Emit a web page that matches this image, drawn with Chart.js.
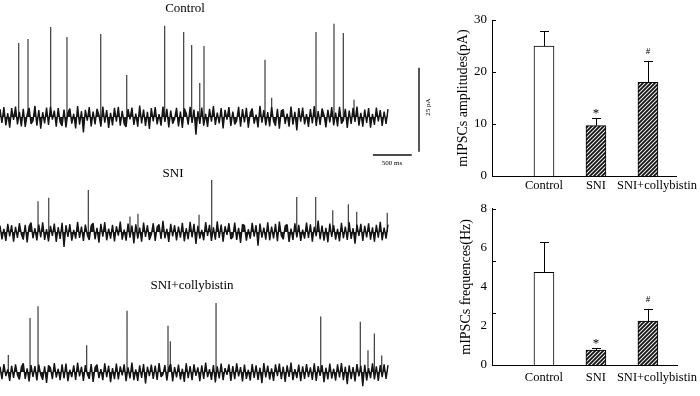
<!DOCTYPE html>
<html>
<head>
<meta charset="utf-8">
<script src="https://cdn.jsdelivr.net/npm/chart.js@4.4.1/dist/chart.umd.min.js"></script>
<style>
  body { margin: 0; background: #fff; width: 700px; height: 396px; overflow: hidden; position: relative; font-family: 'Liberation Serif', serif; }
  canvas { position: absolute; }
  .lbl { position: absolute; white-space: nowrap; color: #000; transform: translate(-50%, -50%); line-height: 1; }
</style>
</head>
<body>
<canvas id="trControl" width="440" height="170" style="left:0px;top:0px"></canvas>
<canvas id="trSni" width="440" height="80" style="left:0px;top:170px"></canvas>
<canvas id="trColly" width="440" height="106" style="left:0px;top:290px"></canvas>
<canvas id="ampChart" width="260" height="196" style="left:440px;top:0px"></canvas>
<canvas id="freqChart" width="260" height="200" style="left:440px;top:196px"></canvas>

<div class="lbl" style="left:185px;top:7px;font-size:13px">Control</div>
<div class="lbl" style="left:173px;top:172px;font-size:13px">SNI</div>
<div class="lbl" style="left:192px;top:284px;font-size:13px">SNI+collybistin</div>
<div class="lbl" style="left:428px;top:107px;font-size:7px;transform:translate(-50%,-50%) rotate(-90deg)">25 pA</div>
<div class="lbl" style="left:392px;top:163px;font-size:7px">500 ms</div>

<script>
// ---- trace data (ms / pA), noise sampled every 25 ms ----
const NOISE_STEP_MS = 25;

const CONTROL_NOISE = [
  2.3,-1.8,2.9,-2.5,1.1,-3.2,2.6,-0.9,3.1,-2.2,
  1.5,-2.8,2.4,-3.0,0.7,2.7,-2.1,-1.2,3.3,-2.6,
  2.0,-3.5,1.4,-1.9,2.8,-2.4,3.0,-0.8,1.9,-2.9,
  2.6,-1.6,-2.7,2.2,-3.1,1.3,2.5,-2.0,0.9,-3.4,
  3.2,-2.3,1.7,-4.6,2.1,-1.1,2.9,-2.8,1.6,-2.2,
  2.4,0.6,-2.9,3.1,-1.7,2.0,-3.3,1.2,-2.5,2.7,
  -1.4,3.0,-2.6,1.8,-2.1,-3.0,2.3,-0.7,2.8,-2.4,
  1.0,-2.9,3.4,-1.9,2.2,-2.7,1.5,-3.6,2.6,-1.3,
  2.9,-2.2,0.8,-2.6,3.1,-1.5,2.4,-3.1,1.9,-2.0,
  -0.6,2.7,-2.8,1.6,-3.3,2.5,1.1,-2.3,3.0,-1.8,
  2.2,-5.3,1.7,-2.1,2.8,-2.6,0.9,-3.0,2.4,-1.4,
  3.2,-2.4,1.3,-1.9,2.6,-3.4,2.1,-0.8,2.9,-2.7,
  1.6,-2.2,-1.1,3.0,-2.9,2.3,-1.6,2.7,-3.2,1.2,
  2.5,-2.0,0.7,-3.1,3.3,-1.7,2.0,-2.5,1.4,-2.8,
  2.9,-1.2,-2.6,2.4,-3.5,1.8,2.2,-2.1,1.0,-2.9,
  3.1,-2.3,1.5,-4.0,2.6,-1.4,2.8,-2.2,0.8,-3.0,
  2.3,-1.9,3.2,-2.7,1.7,-2.4,2.5,0.6,-3.1,2.1,
  -1.6,2.9,-2.5,1.3,-2.8,3.0,-2.0,-1.0,2.4,-3.3,
  1.9,-2.1,2.7,-1.5,3.1,-2.6,1.2,-2.9,2.2,-1.8,
  2.6,-3.2,0.9,-2.4,2.8,-1.3,2.0,-2.7,1.6,-2.1,
  2.3
];
const SNI_NOISE = [
  1.9,-2.2,0.9,-2.7,2.4,-1.3,2.0,-2.9,1.5,-1.8,
  2.6,-0.7,-2.3,2.1,-3.1,1.7,2.8,-1.9,1.1,-2.5,
  2.2,-1.6,2.9,-2.4,0.8,-2.8,1.8,-1.2,2.5,-3.0,
  1.4,-2.1,2.7,-4.5,2.0,-1.5,2.3,-2.6,0.6,-2.0,
  3.0,-1.8,1.6,-2.7,2.2,-0.9,-2.4,1.9,2.6,-2.2,
  1.2,-3.2,2.4,-1.4,2.9,-2.5,1.0,-2.0,2.1,-2.8,
  1.7,-1.1,3.1,-2.3,0.7,-2.6,2.5,-1.7,1.9,-3.4,
  2.3,-2.0,1.3,-2.9,2.8,-1.5,2.0,-2.4,-0.8,2.6,
  -2.7,1.5,2.2,-2.1,3.3,-1.9,0.9,-3.0,2.4,-1.3,
  2.0,-2.5,1.6,-1.7,2.7,-2.8,1.1,-2.2,3.0,-1.6,
  2.4,-3.6,1.8,-2.0,0.6,-2.5,2.9,-1.2,2.1,-2.7,
  1.4,-2.3,3.2,-1.8,2.2,-2.9,1.7,-0.9,2.6,-2.1,
  -1.5,2.8,-2.4,1.2,-3.3,2.3,1.9,-2.6,0.8,-2.0,
  2.7,-1.4,2.0,-4.1,2.5,-1.7,1.3,-2.3,2.9,-2.5,
  1.6,-1.9,2.4,-2.8,3.1,-1.1,-2.2,1.8,2.2,-3.0,
  1.0,-2.4,2.6,-1.6,2.1,-2.7,0.7,-2.0,2.8,-1.8,
  2.3,-2.9,1.5,-1.3,3.4,-2.2,1.9,-2.6,1.2,-3.1,
  2.5,-1.5,2.0,-2.3,0.9,-2.8,2.7,-1.9,1.6,-2.4,
  2.9,-2.1,1.1,-3.5,2.2,-1.2,2.4,-2.7,1.8,-1.6,
  2.6,-2.3,1.4,-2.9,2.1,-1.7,3.0,-2.5,1.3,-2.0,
  2.2
];
const COLLY_NOISE = [
  1.6,-2.1,2.4,-1.2,0.8,-2.6,1.9,-1.7,2.3,-0.9,
  -2.2,1.5,2.6,-2.0,1.1,-2.8,2.1,-1.4,1.8,-2.5,
  2.2,-0.8,-2.3,1.7,-3.2,2.0,1.3,-2.1,2.7,-1.6,
  1.0,-2.4,2.3,-1.9,2.5,-2.7,0.7,-1.5,2.0,-2.3,
  2.8,-1.3,1.6,-2.6,2.1,-0.6,-2.0,2.4,-2.9,1.4,
  2.2,-1.8,0.9,-2.4,2.6,-1.5,1.9,-3.0,1.2,-2.1,
  2.5,-2.2,1.7,-1.0,2.3,-2.7,1.4,-1.9,2.8,-2.4,
  0.8,-2.6,2.0,-1.7,2.4,-3.4,1.6,-1.2,2.2,-2.0,
  1.9,-2.3,2.7,-1.4,-0.7,2.1,-2.5,1.3,2.4,-2.8,
  1.5,-1.6,2.2,-2.2,1.0,-2.9,2.6,-1.8,1.8,-2.4,
  2.3,-1.1,1.4,-2.7,2.0,-2.0,2.8,-1.5,0.9,-2.3,
  2.1,-3.1,1.7,-1.9,2.5,-2.4,1.2,-0.8,2.3,-2.6,
  1.8,-2.1,2.6,-1.3,1.5,-2.8,2.2,-2.0,0.7,-2.5,
  2.4,-1.7,2.0,-2.3,1.3,-3.3,2.7,-1.6,1.9,-2.2,
  1.1,-2.6,2.3,-1.2,2.5,-2.1,1.6,-2.9,2.0,-1.4,
  2.8,-2.4,0.9,-1.8,2.2,-2.7,1.7,-2.0,2.4,-1.5,
  1.4,-2.3,2.6,-2.6,1.8,-1.1,2.1,-3.0,1.3,-2.2,
  2.5,-1.9,1.0,-2.5,2.3,-1.6,2.7,-2.4,1.6,-3.6,
  2.0,-2.1,1.5,-2.8,2.4,-1.3,1.9,-4.2,2.2,-2.5,
  1.2,-1.8,2.6,-2.2,1.7,-2.6,2.1,-1.5,2.3,-2.0,
  2.1
];

const CONTROL_SPIKE_MS = [241, 361, 653, 863, 1298, 1633, 2122, 2367, 2470, 2574, 2629, 3415, 3501, 4072, 4304, 4424, 4562];
const CONTROL_SPIKE_PA = [22.0, 23.2, 26.8, 23.8, 24.7, 12.5, 27.1, 25.3, 21.4, 10.1, 21.1, 17.0, 5.7, 25.3, 27.7, 25.0, 5.1];
const SNI_SPIKE_MS = [490, 628, 1138, 1675, 1778, 2565, 2728, 3824, 4068, 4288, 4489, 4597, 4990];
const SNI_SPIKE_PA = [9.2, 10.2, 12.5, 4.6, 5.4, 5.1, 15.5, 10.4, 10.4, 6.5, 8.3, 6.0, 5.7];
const COLLY_SPIKE_MS = [107, 387, 490, 1117, 1637, 2165, 2195, 2784, 4133, 4643, 4742, 4824, 4919];
const COLLY_SPIKE_PA = [5.1, 16.1, 19.6, 8.0, 18.2, 13.8, 9.2, 20.5, 16.5, 15.0, 6.5, 11.5, 4.9];

const SCALE_BAR_PA = 25;
const SCALE_BAR_MS = 500;

// ---- bar chart data ----
const GROUPS = ['Control', 'SNI', 'SNI+collybistin'];
const AMP_MEAN = [25.0, 9.7, 18.0];
const AMP_SEM = [2.9, 1.4, 4.1];
const FREQ_MEAN = [4.74, 0.76, 2.25];
const FREQ_SEM = [1.56, 0.10, 0.62];
const SIG_MARKS = ['', '*', '#'];
const AMP_TICKS = [0, 10, 20, 30];
const AMP_TICK_MARKS = [0, 10, 20, 30];
const FREQ_TICKS = [0, 2, 4, 6, 8];
const FREQ_TICK_MARKS = [0, 2.67, 5.33, 8];

const X_MAX_MS = 5670;  // 440 px of trace canvas
const SERIF = 'Liberation Serif';
const LABEL_DX = [0, 0, 9];  // last group label sits right of its bar in the figure

function traceChart(id, noise, spikeMs, spikePa, yMin, yMax, extra) {
  const noisePts = noise.map((v, i) => ({ x: i * NOISE_STEP_MS, y: v }));
  const spikePts = [];
  spikeMs.forEach((t, i) => {
    spikePts.push({ x: t, y: 0 }, { x: t, y: spikePa[i] }, { x: t, y: null });
  });
  return new Chart(document.getElementById(id), {
    type: 'line',
    data: {
      datasets: [
        {
          data: noisePts, borderColor: '#141414', borderWidth: 1.4, borderJoinStyle: 'bevel',
          fill: 'origin', backgroundColor: '#1c1c1c', pointRadius: 0, tension: 0
        },
        { data: spikePts, borderColor: '#3c3c3c', borderWidth: 1.2, pointRadius: 0, spanGaps: false, fill: false }
      ]
    },
    options: {
      responsive: false, animation: false, events: [],
      layout: { padding: 0 },
      plugins: { legend: { display: false }, tooltip: { enabled: false }, filler: { propagate: false } },
      scales: {
        x: { type: 'linear', display: false, min: 0, max: X_MAX_MS },
        y: { display: false, min: yMin, max: yMax }
      }
    },
    plugins: extra || []
  });
}

const scaleBarPlugin = {
  id: 'scaleBar',
  afterDraw(chart) {
    const { ctx, scales: { x, y } } = chart;
    const vx = Math.round(x.getPixelForValue(5400));
    const vy0 = y.getPixelForValue(-10.4), vy1 = y.getPixelForValue(-10.4 + SCALE_BAR_PA);
    const hy = Math.round(y.getPixelForValue(-11.3));
    const hx0 = x.getPixelForValue(4806), hx1 = x.getPixelForValue(4806 + SCALE_BAR_MS);
    ctx.save();
    ctx.strokeStyle = '#111';
    ctx.lineWidth = 1.4;
    ctx.beginPath();
    ctx.moveTo(vx, vy0); ctx.lineTo(vx, vy1);
    ctx.moveTo(hx0, hy); ctx.lineTo(hx1, hy);
    ctx.stroke();
    ctx.restore();
  }
};

traceChart('trControl', CONTROL_NOISE, CONTROL_SPIKE_MS, CONTROL_SPIKE_PA, -15.8, 34.8, [scaleBarPlugin]);
traceChart('trSni', SNI_NOISE, SNI_SPIKE_MS, SNI_SPIKE_PA, -5.4, 18.5);
traceChart('trColly', COLLY_NOISE, COLLY_SPIKE_MS, COLLY_SPIKE_PA, -7.1, 24.4);

function hatch() {
  const c = document.createElement('canvas');
  c.width = 4; c.height = 4;
  const g = c.getContext('2d');
  g.fillStyle = '#111';
  g.fillRect(0, 0, 4, 4);
  g.strokeStyle = '#eeeeee';
  g.lineWidth = 1.1;
  g.beginPath();
  g.moveTo(0, 4); g.lineTo(4, 0);
  g.moveTo(-1, 1); g.lineTo(1, -1);
  g.moveTo(3, 5); g.lineTo(5, 3);
  g.stroke();
  return g.createPattern(c, 'repeat');
}

function errorPlugin(means, sems, tickMarks, labelY) {
  return {
    id: 'errBars',
    afterDraw(chart) {
      const { ctx, chartArea, scales: { x, y } } = chart;
      ctx.save();
      ctx.strokeStyle = '#000';
      ctx.lineWidth = 1;
      ctx.beginPath();
      tickMarks.forEach(v => {
        const py = Math.round(y.getPixelForValue(v)) + 0.5;
        ctx.moveTo(chartArea.left, py); ctx.lineTo(chartArea.left + 4, py);
      });
      means.forEach((m, i) => {
        const px = Math.round(x.getPixelForValue(i + 1)) + 0.5;
        const y0 = y.getPixelForValue(m);
        const y1 = Math.round(y.getPixelForValue(m + sems[i])) + 0.5;
        ctx.moveTo(px, y0); ctx.lineTo(px, y1);
        ctx.moveTo(px - 4.5, y1); ctx.lineTo(px + 4.5, y1);
      });
      ctx.stroke();
      ctx.fillStyle = '#000';
      ctx.textAlign = 'center';
      ctx.textBaseline = 'middle';
      means.forEach((m, i) => {
        if (!SIG_MARKS[i]) return;
        const px = x.getPixelForValue(i + 1);
        const y1 = y.getPixelForValue(m + sems[i]);
        const star = SIG_MARKS[i] === '*';
        ctx.font = (star ? '13px ' : '9px ') + SERIF;
        ctx.fillText(SIG_MARKS[i], px, y1 - (star ? 5 : 9));
      });
      // category labels
      ctx.font = '12.5px ' + SERIF;
      GROUPS.forEach((g, i) => {
        ctx.fillText(g, x.getPixelForValue(i + 1) + LABEL_DX[i], chartArea.bottom + labelY);
      });
      ctx.restore();
    }
  };
}

function barChart(id, title, means, sems, ticks, tickMarks, yMax, o) {
  const pat = hatch();
  return new Chart(document.getElementById(id), {
    type: 'bar',
    data: {
      datasets: [{
        data: means.map((v, i) => ({ x: i + 1, y: v })),
        backgroundColor: ['#ffffff', pat, pat],
        borderColor: '#000',
        borderWidth: 1,
        barThickness: 20
      }]
    },
    options: {
      responsive: false, animation: false, events: [],
      layout: { padding: { left: o.padLeft, top: o.padTop, right: o.padRight, bottom: 0 } },
      plugins: { legend: { display: false }, tooltip: { enabled: false } },
      scales: {
        x: {
          type: 'linear', min: 0, max: o.xMax, offset: false,
          grid: { display: false, drawTicks: false },
          border: { color: '#000', width: 1 },
          ticks: { display: false },
          afterFit: s => { s.height = o.xAxisH; }
        },
        y: {
          min: 0, max: yMax,
          grid: { display: false, drawTicks: false },
          border: { color: '#000', width: 1 },
          afterBuildTicks: s => { s.ticks = ticks.map(v => ({ value: v })); },
          afterFit: s => { s.width = o.yAxisW; },
          ticks: { color: '#000', padding: 5, font: { family: SERIF, size: 13 } },
          title: { display: true, text: title, color: '#000', padding: 0, font: { family: SERIF, size: 14 } }
        }
      }
    },
    plugins: [errorPlugin(means, sems, tickMarks, o.labelY)]
  });
}

barChart('ampChart', 'mIPSCs amplitudes(pA)', AMP_MEAN, AMP_SEM, AMP_TICKS, AMP_TICK_MARKS, 30,
  { padLeft: 15, padTop: 20, padRight: 24, yAxisW: 37, xAxisH: 20, labelY: 10, xMax: 3.54 });
barChart('freqChart', 'mIPSCs frequences(Hz)', FREQ_MEAN, FREQ_SEM, FREQ_TICKS, FREQ_TICK_MARKS, 8,
  { padLeft: 18, padTop: 12, padRight: 23, yAxisW: 34, xAxisH: 31, labelY: 12.5, xMax: 3.56 });
</script>
</body>
</html>
